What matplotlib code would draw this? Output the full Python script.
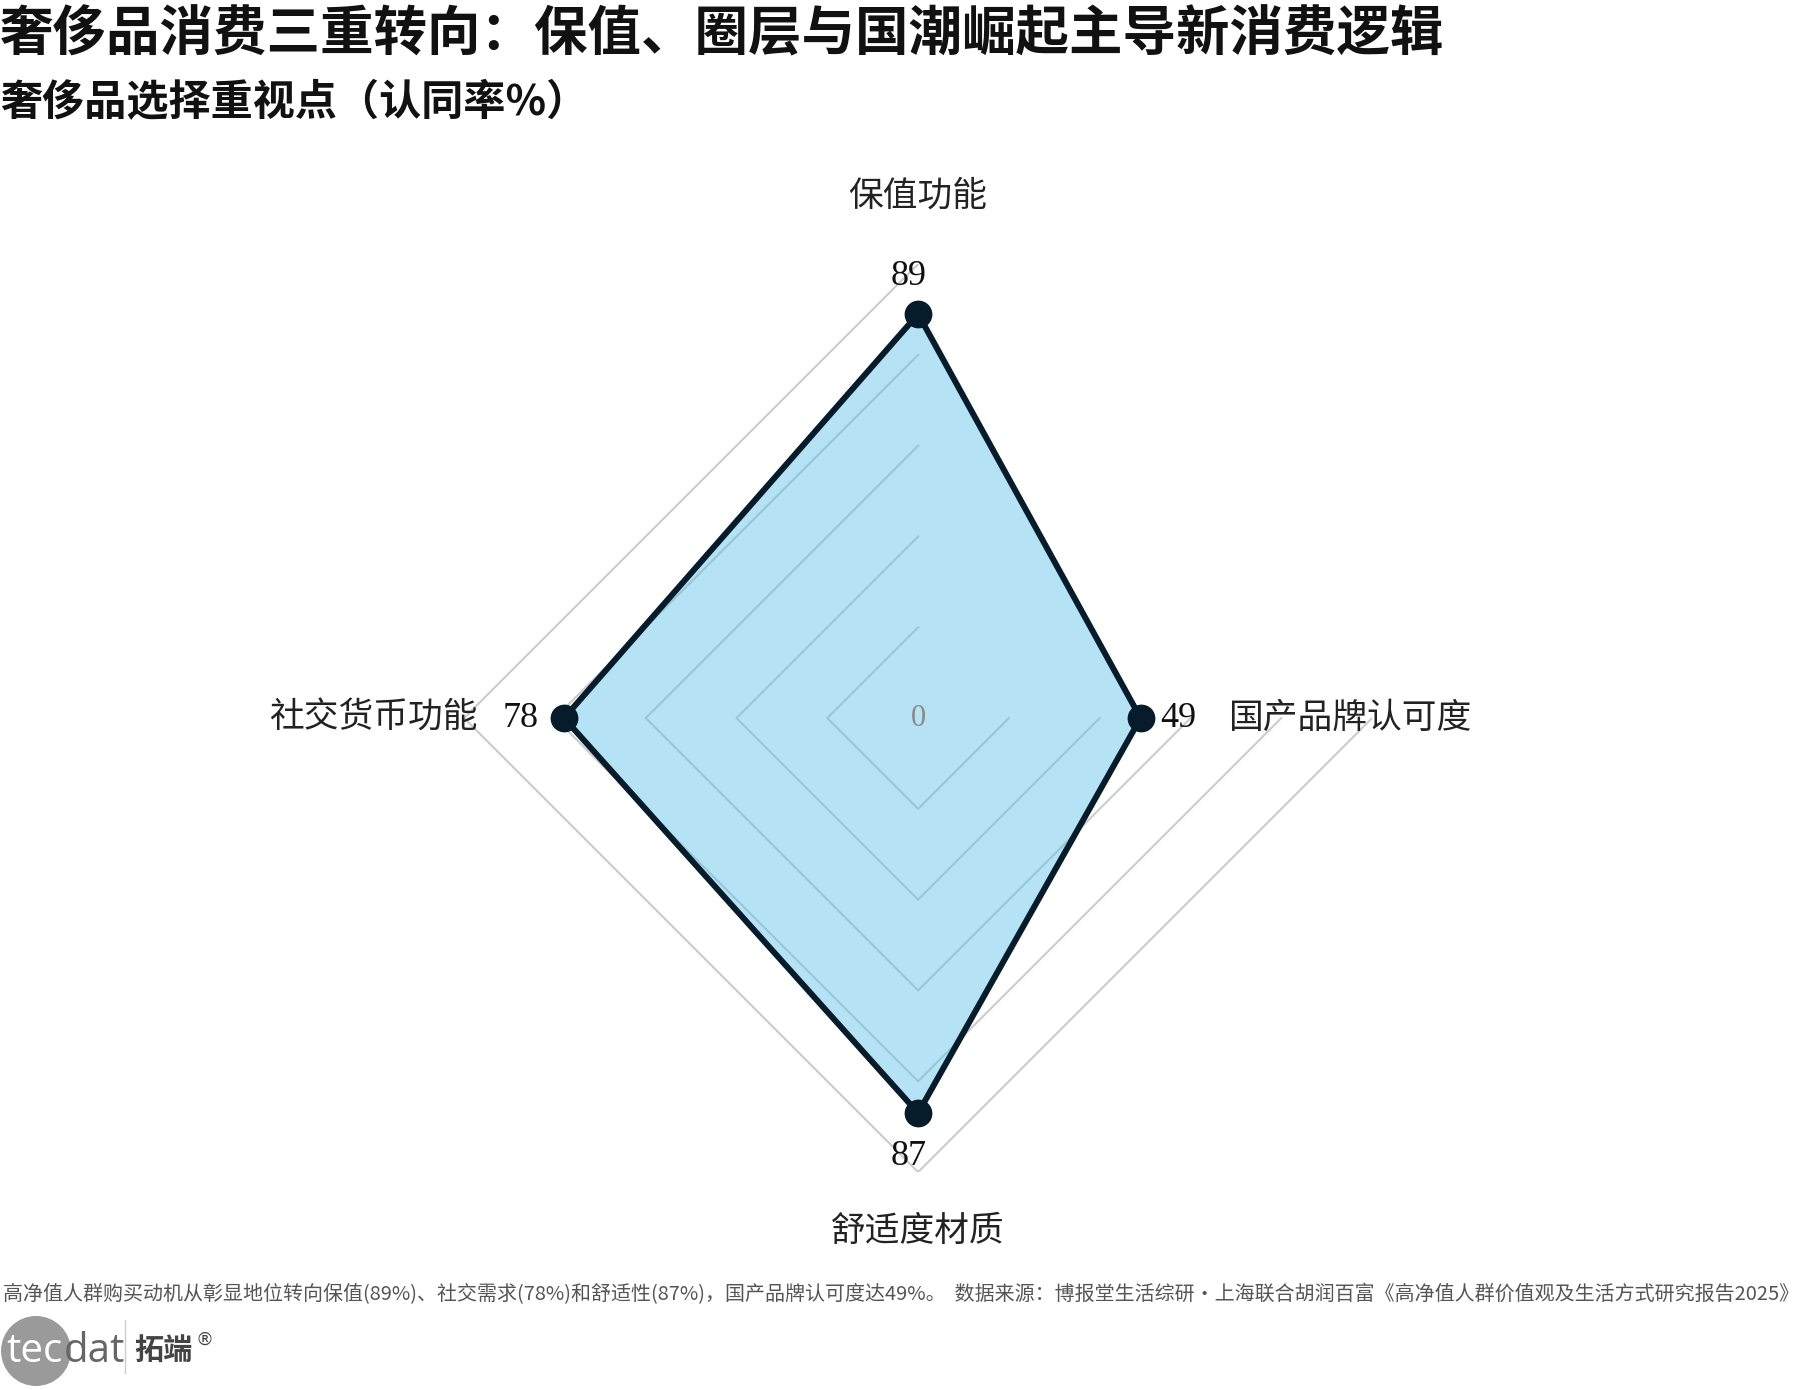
import numpy as np
import matplotlib
matplotlib.use('Agg')
import matplotlib.pyplot as plt
from matplotlib.patches import Circle
from matplotlib.lines import Line2D

plt.rcParams['font.family'] = ['Noto Sans CJK SC', 'DejaVu Sans']
plt.rcParams['axes.unicode_minus'] = False

# 数据（逆时针，从正上方开始）
categories = ['保值功能', '社交货币功能', '舒适度材质', '国产品牌认可度']
values = [89, 78, 87, 49]
ring_levels = [20, 40, 60, 80, 100]

title = '奢侈品消费三重转向：保值、圈层与国潮崛起主导新消费逻辑'
subtitle = '奢侈品选择重视点（认同率%）'
footer = ('高净值人群购买动机从彰显地位转向保值(89%)、社交需求(78%)和舒适性(87%)，国产品牌认可度达49%。  '
          '数据来源：博报堂生活综研·上海联合胡润百富《高净值人群价值观及生活方式研究报告2025》')

fill_color = '#5bc0eb'
line_color = '#061c2b'
grid_color = '#cccccc'

fig = plt.figure(figsize=(18.15, 13.9), dpi=100)
ax = fig.add_axes([0.2557, 0.1568, 0.5003, 0.6532], projection='polar')
ax.set_theta_zero_location('N')
ax.set_theta_direction(1)
ax.set_ylim(0, 100)
ax.grid(False)
ax.set_xticks([])
ax.set_yticks([])
ax.spines['polar'].set_visible(False)
ax.patch.set_alpha(0)

angles = np.deg2rad(np.arange(len(categories)) * 360.0 / len(categories))

# 网格（不闭合）
for lv in ring_levels:
    ax.plot(angles, [lv] * len(angles), color=grid_color, lw=1.5, zorder=1)

closed_a = np.append(angles, angles[0])
closed_v = values + [values[0]]
ax.fill(closed_a, closed_v, color=fill_color, alpha=0.45, lw=0, zorder=2)
ax.plot(closed_a, closed_v, color=line_color, lw=4.3, zorder=3, solid_joinstyle='miter')
ax.plot(angles, values, 'o', color=line_color, ms=19, zorder=4)

ax.text(0, 0, '0', ha='center', va='center', fontsize=22, color='#8a8a8a',
        family='Liberation Serif', zorder=5)

# 数值标签
offsets = [(-6.5, 27), (-31.5, 0), (-6.5, -31), (27, 0)]
for a, v, off in zip(angles, values, offsets):
    ax.annotate(str(v), (a, v), xytext=off, textcoords='offset points',
                ha='center', va='center', fontsize=26, family='Liberation Serif',
                color='#111111', zorder=6)

# 类别标签
label_r = [115, 120, 113, 95]
for a, c, r in zip(angles, categories, label_r):
    ax.text(a, r, c, ha='center', va='center', fontsize=25, color='#222222')

fig.text(0.0, 1 - 35 / 1390, title, ha='left', va='center', fontsize=38.5,
         fontweight='bold', color='#111111')
fig.text(0.0, 1 - 103 / 1390, subtitle, ha='left', va='center', fontsize=30.3,
         fontweight='bold', color='#111111')
fig.text(3 / 1815, 1 - 1295 / 1390, footer, ha='left', va='center', fontsize=14.4,
         color='#555555')

# logo
tr = fig.dpi_scale_trans
fig.add_artist(Circle((0.36, (1390 - 1351) / 100), 0.35, transform=tr,
                      color='#9a9a9a', lw=0, zorder=1))
fig.text(0.06, (1390 - 1352) / 100, 'tec', transform=tr, ha='left', va='center',
         fontsize=29, color='white', family='Open Sans', zorder=2)
fig.text(0.64, (1390 - 1352) / 100, 'dat', transform=tr, ha='left', va='center',
         fontsize=29, color='#666666', family='Open Sans', zorder=2)
fig.add_artist(Line2D([1.25, 1.25], [(1390 - 1320) / 100, (1390 - 1373) / 100],
                      transform=tr, color='#cccccc', lw=1))
fig.text(1.34, (1390 - 1350) / 100, '拓端', transform=tr, ha='left', va='center',
         fontsize=21, fontweight='bold', color='#444444')
fig.text(1.95, (1390 - 1340) / 100, '®', transform=tr, ha='left', va='center',
         fontsize=13, color='#444444', family='DejaVu Sans')

fig.savefig('out.png', dpi=100)
